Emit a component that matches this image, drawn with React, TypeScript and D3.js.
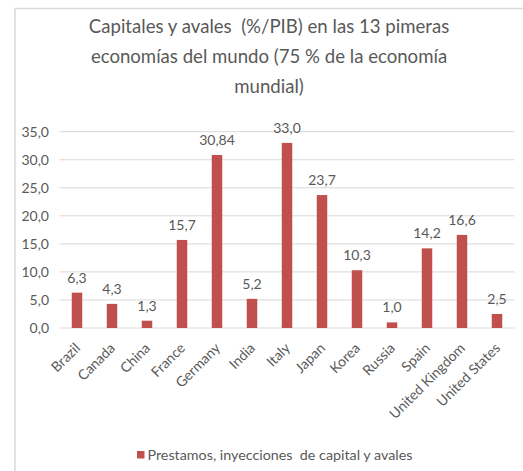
import * as d3 from "d3";

const countries = [
  "Brazil",
  "Canada",
  "China",
  "France",
  "Germany",
  "India",
  "Italy",
  "Japan",
  "Korea",
  "Russia",
  "Spain",
  "United Kingdom",
  "United States",
];
const values = [6.3, 4.3, 1.3, 15.7, 30.84, 5.2, 33.0, 23.7, 10.3, 1.0, 14.2, 16.6, 2.5];
const valueLabels = ["6,3", "4,3", "1,3", "15,7", "30,84", "5,2", "33,0", "23,7", "10,3", "1,0", "14,2", "16,6", "2,5"];
const yTicks = [0, 5, 10, 15, 20, 25, 30, 35];
const titleLines = [
  "Capitales y avales  (%/PIB) en las 13 pimeras",
  "economías del mundo (75 % de la economía",
  "mundial)",
];
const legendLabel = "Prestamos, inyecciones  de capital y avales";

const W = 523;
const H = 471;
const PLOT = { left: 59.5, right: 514.5, top: 131.7, bottom: 328 };
const FONT = "Lato, 'Open Sans', sans-serif";
const TEXT = "#595959";
const BAR = "#C0504D";

// keep the double spaces of the original
const keepSpaces = (s: string) => s.replace(/  /g, "\u00a0 ");

export default function App() {
  const x = d3.scaleBand<string>().domain(countries).range([PLOT.left, PLOT.right]).padding(0);
  const y = d3.scaleLinear().domain([0, 35]).range([PLOT.bottom, PLOT.top]);
  const barW = x.bandwidth() * 0.3;
  const fmt = (v: number) => d3.format(".1f")(v).replace(".", ",");

  return (
    <svg
      width={W}
      height={H}
      style={{ position: "absolute", left: 0, top: 0, background: "#fff" }}
      fontFamily={FONT}
    >
      <rect x={15} y={8.5} width={W} height={H} fill="#fff" stroke="#D9D9D9" strokeWidth={1.5} />

      {titleLines.map((t, i) => (
        <text key={t} x={269} y={33 + i * 30} textAnchor="middle" fontSize={18.6} fill={TEXT}>
          {keepSpaces(t)}
        </text>
      ))}

      {yTicks.map((t) => (
        <g key={t}>
          <line x1={PLOT.left} x2={PLOT.right} y1={y(t)} y2={y(t)} stroke="#D9D9D9" strokeWidth={1} />
          <text x={49} y={y(t) + 5} textAnchor="end" fontSize={14} fill={TEXT}>
            {fmt(t)}
          </text>
        </g>
      ))}

      {countries.map((c, i) => {
        const cx = (x(c) ?? 0) + x.bandwidth() / 2;
        return (
          <g key={c}>
            <rect x={cx - barW / 2} y={y(values[i])} width={barW} height={y(0) - y(values[i])} fill={BAR} />
            <text x={cx} y={y(values[i]) - 10} textAnchor="middle" fontSize={14} fill={TEXT}>
              {valueLabels[i]}
            </text>
            <text
              transform={`translate(${cx + 4},${PLOT.bottom + 21}) rotate(-45)`}
              textAnchor="end"
              fontSize={14}
              fill={TEXT}
            >
              {c}
            </text>
          </g>
        );
      })}

      <rect x={137} y={451} width={7.5} height={7.5} fill={BAR} />
      <text x={147.5} y={460} fontSize={14.3} fill={TEXT}>
        {keepSpaces(legendLabel)}
      </text>
    </svg>
  );
}
